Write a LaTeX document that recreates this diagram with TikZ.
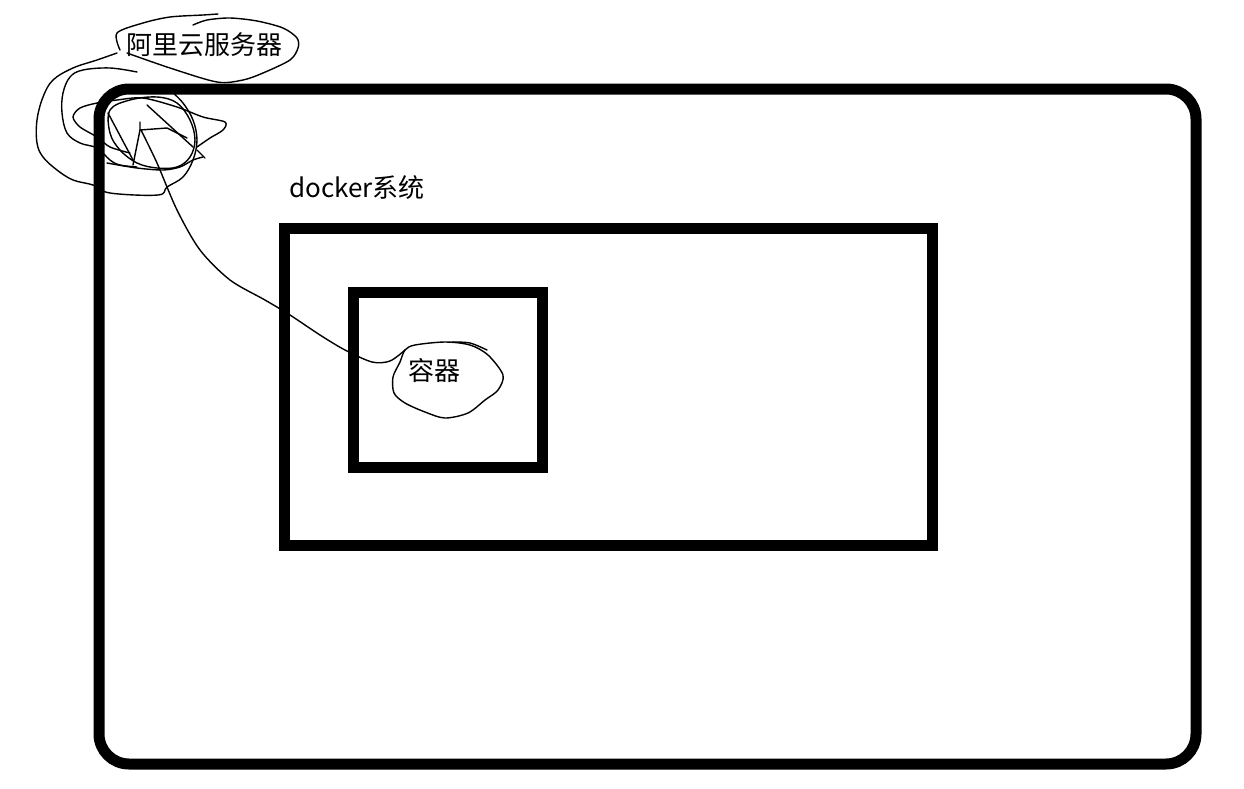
\documentclass[tikz,border=0pt]{standalone}
\usepackage{fontspec}
\newfontfamily\cjk{Noto Sans CJK SC}
\tikzset{
  box/.style={draw=black, line width=11pt, fill=none, inner sep=0pt, outer sep=0pt},
  scribble/.style={draw=black, line width=1.4pt, line join=round, line cap=round},
  lbl/.style={font=\cjk\fontsize{26}{28}\selectfont, inner sep=0pt}
}
\begin{document}
\begin{tikzpicture}[x=1pt,y=-1pt]
\useasboundingbox (0,0) rectangle (1244,788);
\fill[white] (0,0) rectangle (1244,788);
% boxes
\node[box, rounded corners=30pt, minimum width=1097pt, minimum height=675pt] (outer) at (647.5,426.5) {};
\node[box, minimum width=648pt, minimum height=317pt] (dockerbox) at (608,386.5) {};
\node[box, minimum width=189pt, minimum height=175pt] (contbox) at (447.5,379.5) {};
% labels
\node[lbl] (server) at (204,45) {阿里云服务器};
\node[lbl, anchor=west] (dockerlbl) at (289,188) {docker系统};
\node[lbl] (container) at (434,371) {容器};
% scribbles around server label
\draw[scribble] plot[smooth, tension=0.5] coordinates {(120,50) (117,33) (143,23) (170,17) (203,15) (218,14)};
\draw[scribble] plot[smooth, tension=0.5] coordinates {(193,25) (207,20) (230,18) (257,21) (283,28) (297,38) (298,48) (290,60) (263,73) (243,80) (217,82) (170,68) (127,53)};
% outer loop
\draw[scribble] plot[smooth, tension=0.6] coordinates {(117,53) (97,60) (73,68) (53,80) (43,97) (37,120) (37,143) (43,157) (57,170) (73,180) (93,185) (110,193) (158,195) (167,187) (183,177) (193,160) (197,140) (193,120) (183,103) (170,90)};
% second loop
\draw[scribble] plot[smooth, tension=0.6] coordinates {(137,72) (110,68) (83,70) (70,77) (63,93) (62,113) (67,133) (80,143) (97,148) (110,160) (120,165) (137,167)};
% loop pointing right
\draw[scribble] plot[smooth, tension=0.5] coordinates {(130,153) (110,147) (97,137) (80,127) (73,117) (80,108) (97,103) (117,100) (143,98) (177,107) (203,117) (225,122) (223,130) (210,138) (197,147)};
% inner circle
\draw[scribble] plot[smooth cycle, tension=0.6] coordinates {(110,110) (130,100) (157,97) (177,103) (190,120) (195,140) (190,157) (177,167) (157,168) (137,163) (120,150) (110,133)};
% crossing strokes
\draw[scribble] (108,113) -- (133,160);
\draw[scribble] (147,105) -- (193,147);
\draw[scribble] plot[smooth, tension=0.5] coordinates {(107,163) (137,168) (163,170) (180,167) (193,160) (203,157)};
\draw[scribble] (197,150) -- (205,158);
% small triangle
\draw[scribble] (140,122) -- (140,130) -- (133,165);
\draw[scribble] (140,130) -- (167,128) -- (187,138);
% connector from server scribble to container
\coordinate (cstart) at (141,130);
\coordinate (cend) at (405,350);
\draw[scribble] plot[smooth, tension=0.5] coordinates {(cstart) (157,163) (177,210) (200,250) (230,280) (265,300) (290,315) (320,335) (345,350) (372,362) (390,361) (cend)};
% blob around container label
\draw[scribble] plot[smooth cycle, tension=0.5] coordinates {(cend) (415,345) (445,342) (470,345) (488,355) (503,375) (498,390) (485,400) (468,413) (445,418) (425,412) (405,403) (394,393) (393,377) (400,362)};
\draw[scribble] plot[smooth, tension=0.5] coordinates {(452,342) (470,343) (487,350)};
\end{tikzpicture}
\end{document}
